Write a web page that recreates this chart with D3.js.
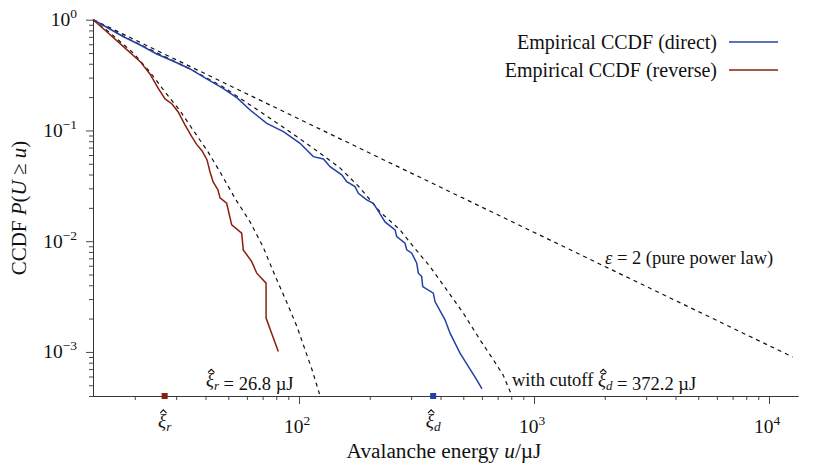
<!DOCTYPE html>
<html>
<head>
<meta charset="utf-8">
<script src="https://cdn.jsdelivr.net/npm/d3@7"></script>
<style>
  body { margin: 0; background: #fff; }
  text { font-family: "Liberation Serif", serif; fill: #111; }
  .tick line { stroke: #333; stroke-width: 0.9; }
  .domain { stroke: #333; stroke-width: 0.9; }
</style>
</head>
<body>
<svg id="chart" width="830" height="468"></svg>
<script>
// empirical CCDF, direct measurements (energy in µJ, probability)
var directU = [13.3, 15.4, 17.9, 21.1, 24.8, 29.7, 34.4, 39.8, 47.5, 54.5, 61.9, 72.9, 85.8, 101, 115, 127, 135.5, 152, 159.6, 173, 178.8, 194.2, 207.1, 221.2, 232.3, 256.2, 260.4, 282.5, 287.3, 301.8, 316.9, 321.9, 332.7, 336, 372.8, 379, 418.1, 439.2, 484.2, 570.5, 600.6];
var directP = [1, 0.842, 0.702, 0.591, 0.49, 0.415, 0.359, 0.298, 0.24, 0.197, 0.153, 0.116, 0.0975, 0.0766, 0.058, 0.0553, 0.0471, 0.0397, 0.0345, 0.0311, 0.0271, 0.0236, 0.022, 0.01764, 0.01493, 0.01265, 0.011, 0.00959, 0.00835, 0.00779, 0.00633, 0.00514, 0.00479, 0.00389, 0.00339, 0.00285, 0.00195, 0.001478, 0.000976, 0.00056, 0.000465];

// empirical CCDF, reverse measurements
var reverseU = [13.3, 15.2, 17.9, 21.1, 23.2, 25.1, 26.9, 28.8, 30.6, 32.7, 35, 36.8, 38.7, 40.6, 41.8, 43.1, 45.2, 46.1, 49.2, 51.7, 57, 57.9, 62.9, 66.1, 72.4, 72.4, 81.6];
var reverseP = [1, 0.779, 0.571, 0.418, 0.3236, 0.2418, 0.1924, 0.1734, 0.1469, 0.1121, 0.0874, 0.074, 0.0653, 0.0542, 0.0422, 0.0343, 0.029, 0.0246, 0.022, 0.01403, 0.0118, 0.00835, 0.00654, 0.00514, 0.00418, 0.00202, 0.00101];

// fitted power law with cutoff (direct)
var fitDirectU = [13.3, 17.8, 24.9, 34.4, 47.5, 61.9, 83, 111.4, 149.4, 181.8, 221.2, 269, 306.5, 360.9, 425.1, 500.1, 589.2, 671.2, 738.2, 806];
var fitDirectP = [1, 0.713, 0.5006, 0.359, 0.247, 0.17, 0.1121, 0.0725, 0.0459, 0.0303, 0.01838, 0.01265, 0.00894, 0.0059, 0.00363, 0.00224, 0.001286, 0.000849, 0.000621, 0.0004];

// fitted power law with cutoff (reverse)
var fitReverseU = [13.3, 15.7, 19.7, 23.2, 26.9, 31.2, 36.1, 41, 46.1, 53.9, 61.9, 70.3, 79.1, 88.9, 98.1, 106.1, 113.6, 122.9];
var fitReverseP = [1, 0.759, 0.5006, 0.337, 0.2226, 0.15, 0.0949, 0.064, 0.0422, 0.0236, 0.01493, 0.00888, 0.00486, 0.00277, 0.001684, 0.001044, 0.00069, 0.0004];

// pure power law, epsilon = 2
var powerU = [13.3, 12600];
var powerP = [1, 0.0009];

// cutoff estimates
var cutoffNames = ["r", "d"];
var cutoffValues = [26.8, 372.2];

// axis tick labels
var xMajor = [100, 1000, 10000];
var xMajorExp = ["2", "3", "4"];
var yMajor = [1, 0.1, 0.01, 0.001];
var yMajorExp = ["0", "\u22121", "\u22122", "\u22123"];

var blue = "#2440a8", red = "#8a1f0c";

var svg = d3.select("#chart");
var x = d3.scaleLog().domain([13.28, 13285]).range([93, 798]);
var y = d3.scaleLog().domain([4e-4, 1]).range([396, 19.7]);

function isDecade(v) {
  var l = Math.log10(v);
  return Math.abs(l - Math.round(l)) < 1e-6;
}

// y axis: minor then major ticks
svg.append("g").attr("transform", "translate(93,0)")
  .call(d3.axisLeft(y).tickValues(y.ticks().filter(v => !isDecade(v))).tickSize(4).tickSizeOuter(0).tickFormat(""));
svg.append("g").attr("transform", "translate(93,0)")
  .call(d3.axisLeft(y).tickValues(yMajor).tickSize(7).tickSizeOuter(0).tickFormat(""));

// x axis
svg.append("g").attr("transform", "translate(0,396)")
  .call(d3.axisBottom(x).tickValues(x.ticks().filter(v => !isDecade(v))).tickSize(4).tickSizeOuter(0).tickFormat(""));
svg.append("g").attr("transform", "translate(0,396)")
  .call(d3.axisBottom(x).tickValues(xMajor).tickSize(8).tickSizeOuter(0).tickFormat(""));

// tick labels
yMajor.forEach(function (v, i) {
  var t = svg.append("text").attr("x", 77).attr("y", y(v) + 6.5)
    .attr("text-anchor", "end").style("font-size", "19.5px");
  t.append("tspan").text("10");
  t.append("tspan").attr("dy", -8).style("font-size", "13.5px").text(yMajorExp[i]);
});
xMajor.forEach(function (v, i) {
  var t = svg.append("text").attr("x", x(v) - 2).attr("y", 433)
    .attr("text-anchor", "middle").style("font-size", "19.5px");
  t.append("tspan").text("10");
  t.append("tspan").attr("dy", -8).style("font-size", "13.5px").text(xMajorExp[i]);
});

// xi with subscript; the hat is drawn as a small path over the xi glyph
function xiSub(t, sub, fs) {
  t.append("tspan").style("font-style", "italic").text("\u03BE");
  t.append("tspan").attr("dy", 4).style("font-size", (fs * 0.7) + "px")
    .style("font-style", "italic").text(sub);
  t.append("tspan").attr("dy", -4).text("");
}
function addHat(t, idx, fs) {
  var r = t.node().getExtentOfChar(idx);
  var base = +t.attr("y");
  var cx = r.x + r.width / 2 + 0.07 * fs;
  svg.append("path")
    .attr("d", "M" + (cx - 3.2) + "," + (base - 0.73 * fs) + "L" + cx + "," + (base - 0.9 * fs) +
      "L" + (cx + 3.2) + "," + (base - 0.73 * fs))
    .attr("fill", "none").attr("stroke", "#111").attr("stroke-width", 1.1);
}
cutoffValues.forEach(function (v, i) {
  var t = svg.append("text").attr("x", x(v)).attr("y", 427)
    .attr("text-anchor", "middle").style("font-size", "19px");
  xiSub(t, cutoffNames[i], 19);
  addHat(t, 0, 19);
});

// axis titles
var xl = svg.append("text").attr("x", 444).attr("y", 458).attr("text-anchor", "middle").style("font-size", "21.3px");
xl.append("tspan").text("Avalanche energy ");
xl.append("tspan").style("font-style", "italic").text("u");
xl.append("tspan").text("/\u00B5J");

var yl = svg.append("text").attr("transform", "translate(26,208) rotate(-90)")
  .attr("text-anchor", "middle").style("font-size", "21px");
yl.append("tspan").text("CCDF ");
yl.append("tspan").style("font-style", "italic").text("P");
yl.append("tspan").text("(");
yl.append("tspan").style("font-style", "italic").text("U");
yl.append("tspan").text(" \u2265 ");
yl.append("tspan").style("font-style", "italic").text("u");
yl.append("tspan").text(")");

// curves
var line = d3.line().x(d => x(d[0])).y(d => y(d[1]));
function pairs(us, ps) { return us.map((u, i) => [u, ps[i]]); }

var plot = svg.append("g");
[[powerU, powerP], [fitDirectU, fitDirectP], [fitReverseU, fitReverseP]].forEach(function (s) {
  plot.append("path").datum(pairs(s[0], s[1]))
    .attr("fill", "none").attr("stroke", "#111").attr("stroke-width", 1.2)
    .attr("stroke-dasharray", "4,4").attr("d", line);
});
plot.append("path").datum(pairs(directU, directP))
  .attr("fill", "none").attr("stroke", blue).attr("stroke-width", 1.5).attr("d", line);
plot.append("path").datum(pairs(reverseU, reverseP))
  .attr("fill", "none").attr("stroke", red).attr("stroke-width", 1.5).attr("d", line);

// cutoff markers on axis
var markerColors = [red, blue];
cutoffValues.forEach(function (v, i) {
  svg.append("rect").attr("x", x(v) - 3).attr("y", 393).attr("width", 6).attr("height", 6)
    .attr("fill", markerColors[i]);
});

// annotations
var a1 = svg.append("text").attr("x", 605).attr("y", 264).style("font-size", "18.5px");
a1.append("tspan").style("font-style", "italic").text("\u03B5");
a1.append("tspan").text(" = 2 (pure power law)");

var a2 = svg.append("text").attr("x", 206).attr("y", 386).style("font-size", "18.5px");
xiSub(a2, "r", 18.5);
a2.append("tspan").text(" = 26.8 \u00B5J");
addHat(a2, 0, 18.5);

var a3 = svg.append("text").attr("x", 512).attr("y", 386).style("font-size", "18.5px");
a3.append("tspan").text("with cutoff ");
xiSub(a3, "d", 18.5);
a3.append("tspan").text(" = 372.2 \u00B5J");
addHat(a3, 12, 18.5);

// legend
var legend = [["Empirical CCDF (direct)", blue], ["Empirical CCDF (reverse)", red]];
legend.forEach(function (l, i) {
  var ly = 42 + i * 28;
  svg.append("text").attr("x", 717).attr("y", ly + 6.5).attr("text-anchor", "end")
    .style("font-size", "20px").text(l[0]);
  svg.append("line").attr("x1", 729).attr("x2", 778).attr("y1", ly).attr("y2", ly)
    .attr("stroke", l[1]).attr("stroke-width", 1.5);
});
</script>
</body>
</html>
